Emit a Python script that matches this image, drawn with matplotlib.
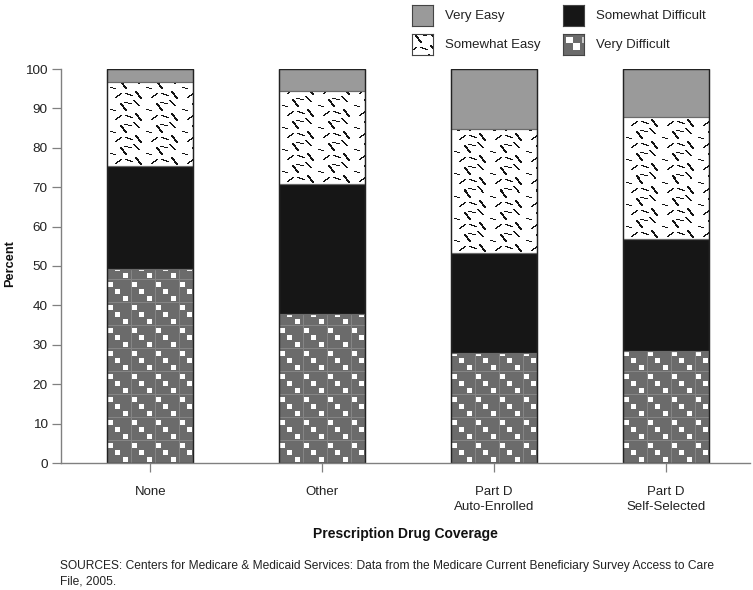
import numpy as np
import matplotlib
matplotlib.use('Agg')
import matplotlib.pyplot as plt

plt.rcParams['font.family'] = ['Liberation Sans', 'DejaVu Sans']

categories = ['None', 'Other', 'Part D\nAuto-Enrolled', 'Part D\nSelf-Selected']
very_difficult = [49.2, 37.8, 27.8, 28.4]
somewhat_difficult = [26.2, 33.0, 25.4, 28.5]
somewhat_easy = [21.2, 23.5, 31.5, 30.8]
very_easy = [3.4, 5.7, 15.3, 12.3]
y_ticks = [0, 10, 20, 30, 40, 50, 60, 70, 80, 90, 100]
legend_labels = ['Very Easy', 'Somewhat Easy', 'Somewhat Difficult', 'Very Difficult']
x_label = 'Prescription Drug Coverage'
y_label = 'Percent'
source = ('SOURCES: Centers for Medicare & Medicaid Services: Data from the Medicare Current '
          'Beneficiary Survey Access to Care\nFile, 2005.')

VE_COL = '#9a9a9a'
SD_COL = '#161616'


def vd_tile():
    t = np.full((23, 24), 0.42)
    t[0, :] = 0.52
    t[:, 0] = 0.52
    for (x, y) in [(1, 3), (8, 10), (16, 17)]:
        t[y:y + 5, x:x + 5] = 1.0
    return t


def se_tile():
    h, w = 22, 36
    t = np.ones((h, w))
    segs = [((3, 9), (8, 10), 1), ((13, 3), (18, 10), 2), ((17, 2), (24, 3), 1),
            ((26, 0), (31, 5), 2), ((8, 19), (14, 15), 1), ((18, 15), (25, 17), 1),
            ((28, 13), (33, 20), 2)]
    for (x0, y0), (x1, y1), th in segs:
        for s in np.linspace(0, 1, 40):
            x = int(round(x0 + (x1 - x0) * s))
            y = int(round(y0 + (y1 - y0) * s))
            t[y % h, x % w] = 0.08
            if th == 2:
                t[y % h, (x + 1) % w] = 0.08
    return t


def vd_legend_tile():
    t = np.full((21, 21), 0.42)
    t[3:9, 3:10] = 1.0
    t[9:16, 10:17] = 1.0
    t[3:9, 19:21] = 0.8
    return t


VD_TILE = vd_tile()
SE_TILE = se_tile()

fig = plt.figure(figsize=(7.53, 5.90), dpi=100)
ax = fig.add_axes([61 / 753, 1 - 463 / 590, (750 - 61) / 753, (463 - 69) / 590])

x = np.arange(len(categories))
ax.set_xlim(-0.52, 3.49)
ax.set_ylim(0, 100)

vd = np.array(very_difficult)
sd = np.array(somewhat_difficult)
se = np.array(somewhat_easy)
ve = np.array(very_easy)
width = 0.5

b_vd = ax.bar(x, vd, width, color='white', edgecolor='none', zorder=1)
b_sd = ax.bar(x, sd, width, bottom=vd, color=SD_COL, edgecolor='none', zorder=1)
b_se = ax.bar(x, se, width, bottom=vd + sd, color='white', edgecolor='none', zorder=1)
b_ve = ax.bar(x, ve, width, bottom=vd + sd + se, color=VE_COL, edgecolor='none', zorder=1)


def texture(patches, tile):
    for p in patches:
        bb = p.get_window_extent()
        wpx = max(int(round(bb.width)), 1)
        hpx = max(int(round(bb.height)), 1)
        big = np.tile(tile, (hpx // tile.shape[0] + 2, wpx // tile.shape[1] + 2))
        arr = big[-hpx:, :wpx]
        x0, y0 = p.get_x(), p.get_y()
        im = ax.imshow(arr, cmap='gray', vmin=0, vmax=1,
                       extent=(x0, x0 + p.get_width(), y0, y0 + p.get_height()),
                       aspect='auto', interpolation='nearest', zorder=1.5)
        im.set_clip_path(p)


texture(b_vd.patches, VD_TILE)
texture(b_se.patches, SE_TILE)

# segment outlines
for bottom, h in [(0, vd), (vd, sd), (vd + sd, se), (vd + sd + se, ve)]:
    ax.bar(x, h, width, bottom=bottom, fill=False, edgecolor='#6a6a6a', linewidth=0.8, zorder=2)
ax.bar(x, vd + sd + se + ve, width, fill=False, edgecolor='#222222', linewidth=1.0, zorder=2.5)

ax.set_xlim(-0.52, 3.49)
ax.set_ylim(0, 100)
ax.set_xticks(x)
ax.set_xticklabels(categories, fontsize=9.5, color='#222222', linespacing=1.35)
ax.set_yticks(y_ticks)
ax.set_yticklabels([str(v) for v in y_ticks], fontsize=9.7, color='#222222')
ax.tick_params(axis='both', direction='out', length=6.5, width=0.9, color='#808080')
ax.tick_params(axis='x', pad=10)
ax.tick_params(axis='y', pad=3)
for s in ['top', 'right']:
    ax.spines[s].set_visible(False)
for s in ['left', 'bottom']:
    ax.spines[s].set_color('#808080')
    ax.spines[s].set_linewidth(1.0)

fig.text(405 / 753, 1 - 534 / 590, x_label, ha='center', va='center', fontsize=10,
         fontweight='bold', color='#111111')
fig.text(10 / 753, 1 - 264 / 590, y_label, ha='center', va='center', fontsize=9.2,
         fontweight='bold', rotation=90, color='#111111')
fig.text(60 / 753, 1 - 574 / 590, source, ha='left', va='center', fontsize=8.65,
         color='#222222', linespacing=1.4)

# legend (manual)
entries = [
    (legend_labels[0], 412, 5, VE_COL, None),
    (legend_labels[1], 412, 34, None, np.tile(SE_TILE, (2, 2))[2:23, 10:31]),
    (legend_labels[2], 563, 5, SD_COL, None),
    (legend_labels[3], 563, 34, None, vd_legend_tile()),
]
for label, px, py, col, tile in entries:
    lax = fig.add_axes([px / 753, 1 - (py + 21) / 590, 21 / 753, 21 / 590])
    if tile is not None:
        lax.imshow(tile, cmap='gray', vmin=0, vmax=1,
                   aspect='auto', interpolation='nearest')
    else:
        lax.set_facecolor(col)
    lax.set_xticks([])
    lax.set_yticks([])
    for s in lax.spines.values():
        s.set_color('#444444')
        s.set_linewidth(0.8)
    fig.text((px + 33) / 753, 1 - (py + 11) / 590, label, ha='left', va='center',
             fontsize=9.5, color='#222222')

fig.savefig('out.png', dpi=100)
